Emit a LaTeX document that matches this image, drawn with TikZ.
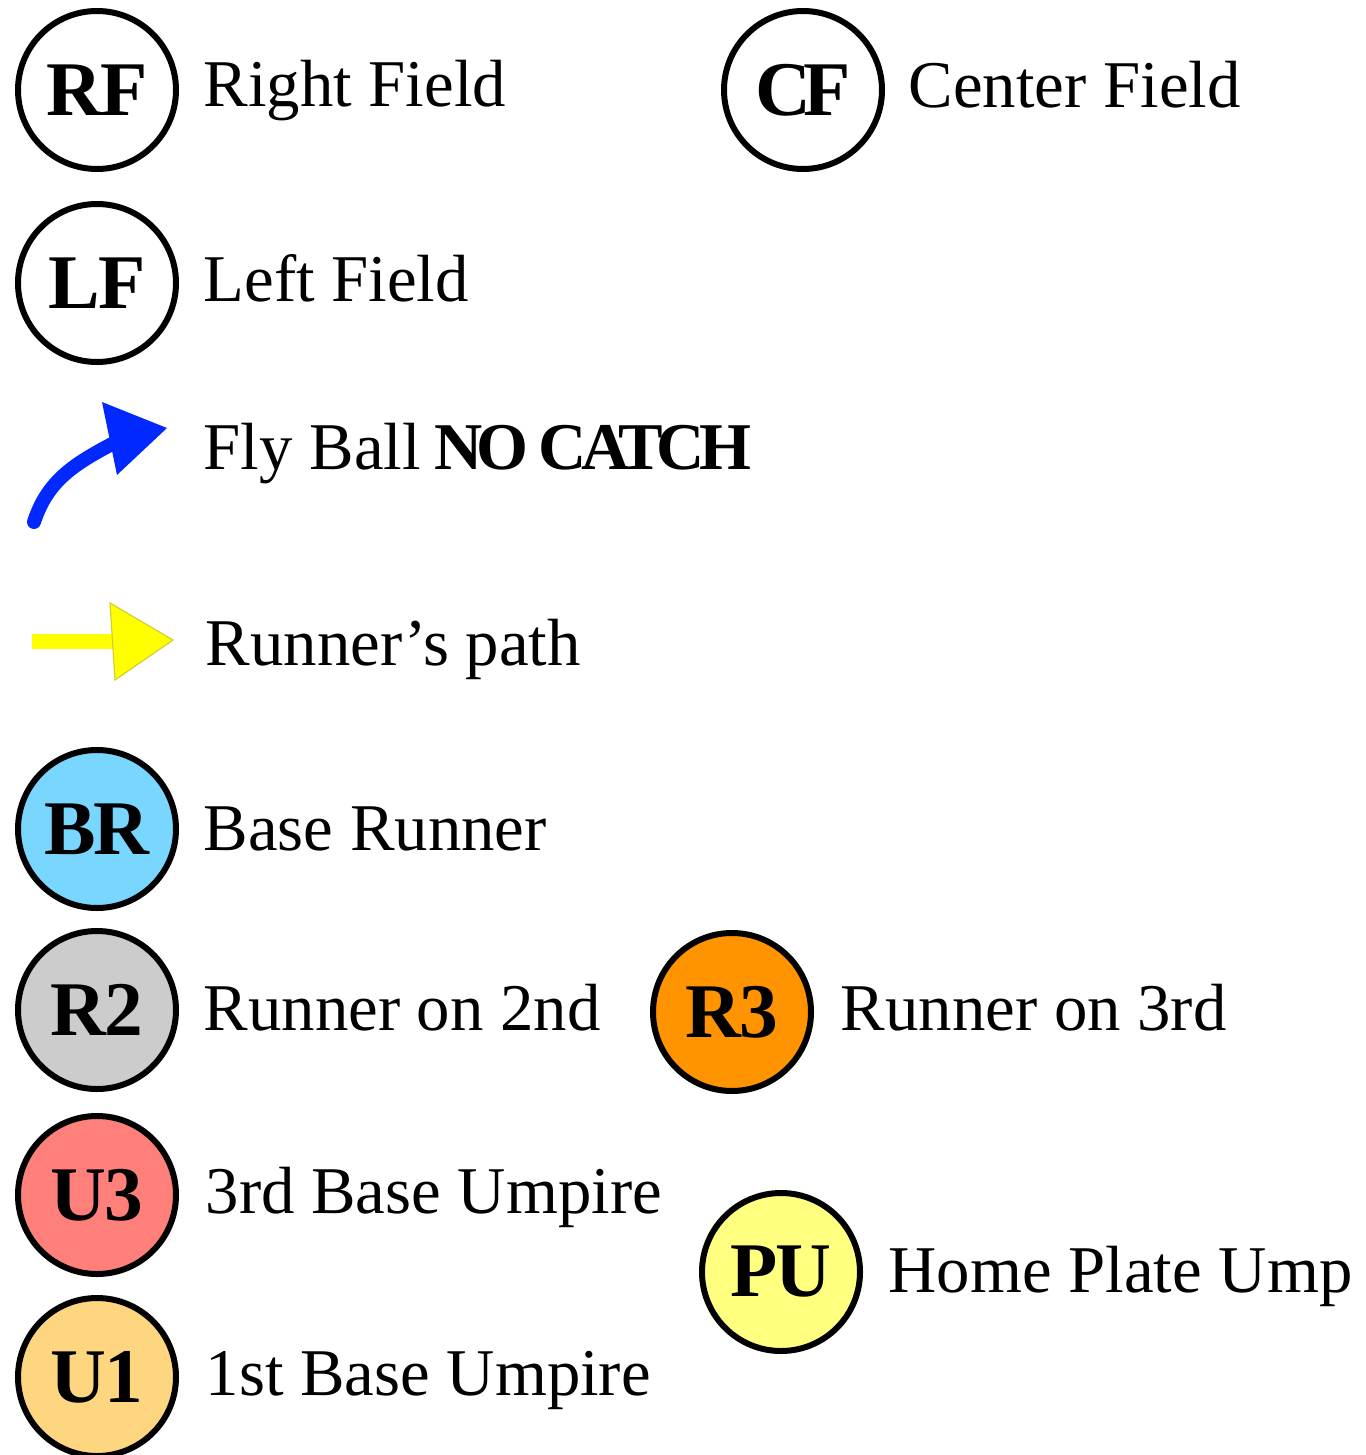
\documentclass[tikz,border=0pt]{standalone}
\usepackage{fontspec}
\setmainfont{Liberation Serif}
\usepackage{xcolor}
\usetikzlibrary{arrows.meta, positioning}

\definecolor{brblue}{RGB}{120,214,255}
\definecolor{rtwogray}{RGB}{204,204,204}
\definecolor{rthreeorange}{RGB}{255,148,0}
\definecolor{uthreered}{RGB}{255,128,122}
\definecolor{puyellow}{RGB}{255,255,128}
\definecolor{uoneorange}{RGB}{255,214,128}
\definecolor{flyblue}{RGB}{0,40,255}
\definecolor{pathyellow}{RGB}{255,255,0}

\begin{document}
\begin{tikzpicture}[
    player/.style={circle, draw=black, line width=0.06cm, minimum size=1.58cm, inner sep=0pt,
                   font=\fontsize{22}{22}\selectfont\bfseries\addfontfeatures{LetterSpace=-3}},
    lbl/.style={anchor=base west, inner sep=0pt, font=\fontsize{19}{19}\selectfont},
    flyline/.style={line width=0.14cm, line cap=round, flyblue},
    pathline/.style={line width=0.15cm, pathyellow}
  ]
  \useasboundingbox (0,0) rectangle (13.66,-14.55);

  % --- Outfield ---
  \node[player] (rf) at (0.97,-0.90) {RF};
  \node[lbl] (rftxt) at (2.03,-1.07) {Right Field};
  \node[player] (cf) at (8.03,-0.90) {C\kern-0.1emF};
  \node[lbl] (cftxt) at (9.08,-1.08) {Center Field};
  \node[player] (lf) at (0.97,-2.83) {LF};
  \node[lbl] (lftxt) at (2.03,-3.02) {Left Field};

  % --- Fly ball ---
  \coordinate (flytail) at (0.34,-5.22);
  \coordinate (flyhead) at (1.12,-4.44);
  \draw[flyline] (flytail) to[out=72, in=208] (flyhead);
  \fill[flyblue] (1.02,-4.02) -- (1.67,-4.28) -- (1.17,-4.75) -- cycle;
  \node[lbl] (flytxt) at (2.03,-4.69)
    {Fly Ball\kern-0.05em\ {\bfseries\addfontfeatures{LetterSpace=-9}NO CATCH}};

  % --- Runner's path ---
  \coordinate (pathtail) at (0.32,-6.41);
  \coordinate (pathhead) at (1.14,-6.41);
  \draw[pathline] (pathtail) -- (pathhead);
  \fill[pathyellow, draw=yellow!80!black, line width=0.3pt]
    (1.10,-6.03) -- (1.73,-6.40) -- (1.15,-6.80) -- cycle;
  \node[lbl] (pathtxt) at (2.05,-6.65) {Runner’s path};

  % --- Runners ---
  \node[player, fill=brblue] (br) at (0.97,-8.29) {BR};
  \node[lbl] (brtxt) at (2.03,-8.50) {Base Runner};
  \node[player, fill=rtwogray] (rtwo) at (0.97,-10.10) {R2};
  \node[lbl] (rtwotxt) at (2.03,-10.30) {Runner on 2nd};
  \node[player, fill=rthreeorange] (rthree) at (7.32,-10.12) {R3};
  \node[lbl] (rthreetxt) at (8.40,-10.30) {Runner on 3rd};

  % --- Umpires ---
  \node[player, fill=uthreered] (uthree) at (0.97,-11.95) {U3};
  \node[lbl] (uthreetxt) at (2.05,-12.13) {3rd Base Umpire};
  \node[player, fill=puyellow] (pu) at (7.81,-12.72) {PU};
  \node[lbl] (putxt) at (8.88,-12.92) {Home Plate Ump};
  \node[player, fill=uoneorange] (uone) at (0.97,-13.77) {U1};
  \node[lbl] (uonetxt) at (2.05,-13.95) {1st Base Umpire};
\end{tikzpicture}
\end{document}
